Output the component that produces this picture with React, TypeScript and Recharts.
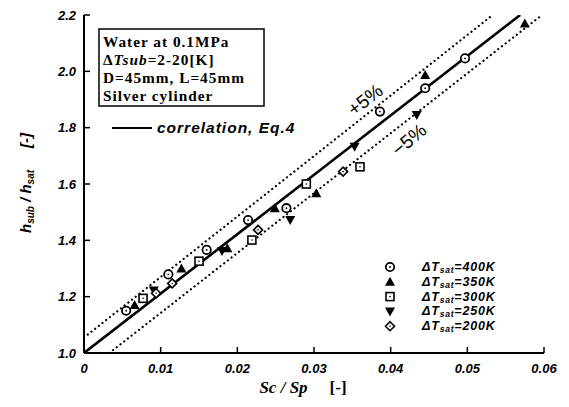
import { ComposedChart, Line, Scatter, XAxis, YAxis } from "recharts";

// Sc/Sp vs h_sub/h_sat
const sat400 = [
  { x: 0.0055, y: 1.15 },
  { x: 0.011, y: 1.279 },
  { x: 0.016, y: 1.366 },
  { x: 0.0214, y: 1.472 },
  { x: 0.0264, y: 1.514 },
  { x: 0.0386, y: 1.857 },
  { x: 0.0445, y: 1.94 },
  { x: 0.0497, y: 2.046 },
];
const sat350 = [
  { x: 0.0066, y: 1.17 },
  { x: 0.0127, y: 1.3 },
  { x: 0.0187, y: 1.372 },
  { x: 0.0249, y: 1.514 },
  { x: 0.0303, y: 1.567 },
  { x: 0.0445, y: 1.987 },
  { x: 0.0575, y: 2.17 },
];
const sat300 = [
  { x: 0.0077, y: 1.194 },
  { x: 0.015, y: 1.326 },
  { x: 0.0219, y: 1.401 },
  { x: 0.029, y: 1.6 },
  { x: 0.036, y: 1.661 },
];
const sat250 = [
  { x: 0.0091, y: 1.222 },
  { x: 0.018, y: 1.362 },
  { x: 0.0269, y: 1.472 },
  { x: 0.0353, y: 1.732 },
  { x: 0.0434, y: 1.845 },
];
const sat200 = [
  { x: 0.0094, y: 1.212 },
  { x: 0.0115, y: 1.247 },
  { x: 0.0227, y: 1.437 },
  { x: 0.0338, y: 1.644 },
];

// correlation line and the +/-5% bands (end points)
const correlation = [
  { x: 0, y: 1.0 },
  { x: 0.0569, y: 2.2 },
];
const plus5 = [
  { x: 0, y: 1.055 },
  { x: 0.0533, y: 2.2 },
];
const minus5 = [
  { x: 0.0033, y: 1.0 },
  { x: 0.0595, y: 2.195 },
];

const xTicks = [0, 0.01, 0.02, 0.03, 0.04, 0.05, 0.06];
const yTicks = [1.0, 1.2, 1.4, 1.6, 1.8, 2.0, 2.2];
const legendNames = ["400K", "350K", "300K", "250K", "200K"];

const PLOT_LEFT = 84;
const PLOT_RIGHT = 544;
const PLOT_TOP = 15;
const PLOT_BOTTOM = 353;
const TICK = 6;

const sans = "'Liberation Sans', Arial, sans-serif";
const serif = "'Liberation Serif', 'Times New Roman', serif";

const tickFont = {
  fontFamily: sans,
  fontWeight: 700,
  fontStyle: "italic" as const,
  fontSize: 13,
};

const OpenCircle = ({ cx, cy }: any) => (
  <g>
    <circle cx={cx} cy={cy} r={4.2} fill="#fff" stroke="#000" strokeWidth={1.8} />
    <circle cx={cx} cy={cy} r={0.9} fill="#000" />
  </g>
);
const TriUp = ({ cx, cy }: any) => (
  <polygon points={`${cx},${cy - 5} ${cx + 5},${cy + 4} ${cx - 5},${cy + 4}`} fill="#000" />
);
const OpenSquare = ({ cx, cy }: any) => (
  <g>
    <rect x={cx - 4} y={cy - 4} width={8} height={8} fill="#fff" stroke="#000" strokeWidth={1.6} />
    <circle cx={cx} cy={cy} r={0.8} fill="#000" />
  </g>
);
const TriDown = ({ cx, cy }: any) => (
  <polygon points={`${cx - 5},${cy - 4} ${cx + 5},${cy - 4} ${cx},${cy + 5}`} fill="#000" />
);
const OpenDiamond = ({ cx, cy }: any) => (
  <g>
    <polygon
      points={`${cx},${cy - 4.5} ${cx + 4.5},${cy} ${cx},${cy + 4.5} ${cx - 4.5},${cy}`}
      fill="#fff"
      stroke="#000"
      strokeWidth={1.6}
    />
    <circle cx={cx} cy={cy} r={0.8} fill="#000" />
  </g>
);
const shapes = [OpenCircle, TriUp, OpenSquare, TriDown, OpenDiamond];

const BottomTick = ({ x, y, payload }: any) => (
  <g>
    <line x1={x} x2={x} y1={PLOT_BOTTOM} y2={PLOT_BOTTOM - TICK} stroke="#000" strokeWidth={1.5} />
    <text x={x} y={y} dy="0.71em" textAnchor="middle" fill="#000" {...tickFont}>
      {payload.value === 0 ? "0" : payload.value.toFixed(2)}
    </text>
  </g>
);
const LeftTick = ({ x, y, payload }: any) => (
  <g>
    <line x1={PLOT_LEFT} x2={PLOT_LEFT + TICK} y1={y} y2={y} stroke="#000" strokeWidth={1.5} />
    <text x={x} y={y} dy="0.35em" textAnchor="end" fill="#000" {...tickFont}>
      {payload.value.toFixed(1)}
    </text>
  </g>
);
const TopTick = ({ x }: any) => (
  <line x1={x} x2={x} y1={PLOT_TOP} y2={PLOT_TOP + TICK} stroke="#000" strokeWidth={1.5} />
);
const RightTick = ({ y }: any) => (
  <line x1={PLOT_RIGHT - TICK} x2={PLOT_RIGHT} y1={y} y2={y} stroke="#000" strokeWidth={1.5} />
);

const axisLine = { stroke: "#000", strokeWidth: 2 };
const dotted = { stroke: "#000", strokeWidth: 2.2, strokeDasharray: "0.1 4.6", strokeLinecap: "round" as const };

const Overlay = () => (
  <svg
    width={569}
    height={407}
    style={{ position: "absolute", left: 0, top: 0, pointerEvents: "none" }}
  >
    <rect x={99} y={29} width={165} height={77} fill="none" stroke="#000" strokeWidth={1.5} />
    <g fontFamily={serif} fontSize={15.3} fontWeight={700} fill="#000" letterSpacing={1}>
      <text x={103} y={47}>Water at 0.1MPa</text>
      <text x={103} y={65}>
        Δ<tspan fontStyle="italic">Tsub</tspan>=2-20[K]
      </text>
      <text x={103} y={83}>D=45mm, L=45mm</text>
      <text x={103} y={101}>Silver cylinder</text>
    </g>
    <line x1={112} x2={152} y1={128} y2={128} stroke="#000" strokeWidth={1.8} />
    <text x={157} y={133} fill="#000" {...tickFont} fontSize={15.5} letterSpacing={1}>
      correlation, Eq.4
    </text>
    <text
      x={366}
      y={101}
      textAnchor="middle"
      dominantBaseline="middle"
      transform="rotate(-38 366 101)"
      fontFamily={sans}
      fontSize={19}
      fill="#000"
    >
      +5%
    </text>
    <text
      x={410}
      y={141}
      textAnchor="middle"
      dominantBaseline="middle"
      transform="rotate(-40 410 141)"
      fontFamily={sans}
      fontSize={19}
      fill="#000"
    >
      −5%
    </text>
    {legendNames.map((name, i) => {
      const Shape = shapes[i];
      const cy = 267 + i * 14.8;
      return (
        <g key={name}>
          <Shape cx={390} cy={cy} />
          <text x={422} y={cy + 4} fill="#000" {...tickFont} fontSize={12.5} letterSpacing={0.8}>
            ΔT
            <tspan fontSize={8.5} dy={2}>
              sat
            </tspan>
            <tspan dy={-2}>={name}</tspan>
          </text>
        </g>
      );
    })}
    <text
      x={0}
      y={0}
      transform="translate(31 183) rotate(-90)"
      textAnchor="middle"
      fill="#000"
      {...tickFont}
      fontSize={15}
    >
      h<tspan fontSize={10} dy={3}>sub</tspan>
      <tspan dy={-3}> / h</tspan>
      <tspan fontSize={10} dy={3}>sat</tspan>
      <tspan dy={-3} dx={22}>[-]</tspan>
    </text>
    <text
      x={303}
      y={393}
      textAnchor="middle"
      fill="#000"
      fontFamily={serif}
      fontWeight={700}
      fontSize={17}
    >
      <tspan fontStyle="italic">Sc / Sp</tspan>
      <tspan dx={22}>[-]</tspan>
    </text>
  </svg>
);

const App = () => {
  return (
    <div style={{ position: "absolute", left: 0, top: 0, width: 569, height: 407, background: "#fff" }}>
      <ComposedChart width={569} height={407} margin={{ top: PLOT_TOP, right: 569 - PLOT_RIGHT, bottom: 0, left: 0 }}>
        <XAxis
          xAxisId="b"
          dataKey="x"
          type="number"
          domain={[0, 0.06]}
          ticks={xTicks}
          allowDataOverflow
          height={407 - PLOT_BOTTOM}
          tickSize={0}
          tickMargin={11}
          tickLine={false}
          axisLine={axisLine}
          tick={<BottomTick />}
        />
        <XAxis
          xAxisId="t"
          orientation="top"
          type="number"
          domain={[0, 0.06]}
          ticks={xTicks}
          allowDataOverflow
          height={0}
          tickSize={0}
          tickLine={false}
          axisLine={axisLine}
          tick={<TopTick />}
        />
        <YAxis
          yAxisId="l"
          dataKey="y"
          type="number"
          domain={[1.0, 2.2]}
          ticks={yTicks}
          allowDataOverflow
          width={PLOT_LEFT}
          tickSize={0}
          tickMargin={8}
          tickLine={false}
          axisLine={axisLine}
          tick={<LeftTick />}
        />
        <YAxis
          yAxisId="r"
          orientation="right"
          type="number"
          domain={[1.0, 2.2]}
          ticks={yTicks}
          allowDataOverflow
          width={0}
          tickSize={0}
          tickLine={false}
          axisLine={axisLine}
          tick={<RightTick />}
        />
        <Line xAxisId="b" yAxisId="l" data={correlation} dataKey="y" stroke="#000" strokeWidth={2.6} dot={false} isAnimationActive={false} legendType="none" />
        <Line xAxisId="b" yAxisId="l" data={plus5} dataKey="y" {...dotted} dot={false} isAnimationActive={false} legendType="none" />
        <Line xAxisId="b" yAxisId="l" data={minus5} dataKey="y" {...dotted} dot={false} isAnimationActive={false} legendType="none" />
        <Scatter xAxisId="b" yAxisId="l" name="400K" data={sat400} shape={OpenCircle} isAnimationActive={false} />
        <Scatter xAxisId="b" yAxisId="l" name="350K" data={sat350} shape={TriUp} isAnimationActive={false} />
        <Scatter xAxisId="b" yAxisId="l" name="300K" data={sat300} shape={OpenSquare} isAnimationActive={false} />
        <Scatter xAxisId="b" yAxisId="l" name="250K" data={sat250} shape={TriDown} isAnimationActive={false} />
        <Scatter xAxisId="b" yAxisId="l" name="200K" data={sat200} shape={OpenDiamond} isAnimationActive={false} />
      </ComposedChart>
      <Overlay />
    </div>
  );
};

export default App;
